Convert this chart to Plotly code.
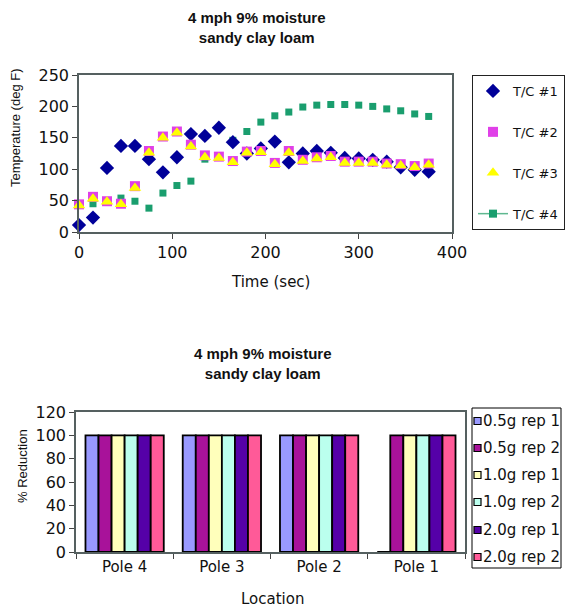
import plotly.graph_objects as go

W, H = 566, 607

# ---------------- data: top chart ----------------
time_sec = [0, 15, 30, 45, 60, 75, 90, 105, 120, 135, 150, 165, 180, 195, 210,
            225, 240, 255, 270, 285, 300, 315, 330, 345, 360, 375]
tc1 = [11, 23, 102, 137, 137, 116, 95, 119, 156, 153, 166, 143, 125, 133, 144,
       111, 125, 129, 126, 118, 117, 115, 112, 103, 99, 96]
tc2 = [44, 56, 49, 45, 73, 129, 152, 160, 139, 122, 120, 113, 128, 129, 110,
       129, 115, 119, 121, 112, 112, 112, 109, 108, 105, 109]
tc3 = [42, 53, 48, 44, 70, 126, 150, 158, 136, 119, 118, 111, 126, 127, 108,
       126, 113, 117, 119, 110, 110, 110, 107, 106, 103, 107]
tc4 = [45, 45, 48, 54, 49, 38, 62, 74, 81, 116, 120, 146, 160, 175, 185,
       191, 199, 202, 203, 203, 202, 200, 196, 193, 188, 184]
tc_names = ["T/C #1", "T/C #2", "T/C #3", "T/C #4"]

# ---------------- data: bottom chart ----------------
locations = ["Pole 4", "Pole 3", "Pole 2", "Pole 1"]
rep_names = ["0.5g rep 1", "0.5g rep 2", "1.0g rep 1", "1.0g rep 2", "2.0g rep 1", "2.0g rep 2"]
red_05_1 = [100, 100, 100, 0]
red_05_2 = [100, 100, 100, 100]
red_10_1 = [100, 100, 100, 100]
red_10_2 = [100, 100, 100, 100]
red_20_1 = [100, 100, 100, 100]
red_20_2 = [100, 100, 100, 100]
reductions = [red_05_1, red_05_2, red_10_1, red_10_2, red_20_1, red_20_2]
bar_colors = ["#9999FF", "#A8129A", "#FFFFBB", "#BBFFEE", "#5500A8", "#FF5A98"]

TICK = "DejaVu Sans"
VERT = "Liberation Sans"

def px(xp):
    return xp / W

def py(yp):
    return 1 - yp / H

fig = go.Figure()

# top scatter
fig.add_trace(go.Scatter(x=time_sec, y=tc4, mode="markers", name=tc_names[3],
                         marker=dict(symbol="square", size=7, color="#1A9E6E"),
                         showlegend=False, cliponaxis=False, xaxis="x", yaxis="y"))
fig.add_trace(go.Scatter(x=time_sec, y=tc1, mode="markers", name=tc_names[0],
                         marker=dict(symbol="diamond", size=11, color="#000099"),
                         legendgroup="a", cliponaxis=False, xaxis="x", yaxis="y"))
fig.add_trace(go.Scatter(x=time_sec, y=tc2, mode="markers", name=tc_names[1],
                         marker=dict(symbol="square", size=10, color="#E040E8"),
                         legendgroup="b", cliponaxis=False, xaxis="x", yaxis="y"))
fig.add_trace(go.Scatter(x=time_sec, y=tc3, mode="markers", name=tc_names[2],
                         marker=dict(symbol="triangle-up", size=11, color="#FFFF00"),
                         legendgroup="c", cliponaxis=False, xaxis="x", yaxis="y"))
# legend entry for T/C #4 (shown with a line in the reference legend)
fig.add_trace(go.Scatter(x=[None], y=[None], mode="lines+markers", name=tc_names[3],
                         marker=dict(symbol="square", size=8, color="#1A9E6E"),
                         line=dict(color="#5FB890", width=1.5),
                         legendgroup="d", xaxis="x", yaxis="y"))

# bottom bars
for name, vals, col in zip(rep_names, reductions, bar_colors):
    fig.add_trace(go.Bar(x=locations, y=vals, name=name,
                         marker=dict(color=col, line=dict(color="black", width=1.8)),
                         showlegend=False, xaxis="x2", yaxis="y2"))

# manual legend for bottom chart
shapes = []
annotations = []
lx0, lx1, ly0, ly1 = 472, 561, 408, 568
shapes.append(dict(type="rect", xref="paper", yref="paper", x0=px(lx0), x1=px(lx1), y0=py(ly1), y1=py(ly0),
                   line=dict(color="black", width=1), fillcolor="white", layer="above"))
row_y = [421, 448, 475, 502, 530, 557]
for name, col, ry in zip(rep_names, bar_colors, row_y):
    shapes.append(dict(type="rect", xref="paper", yref="paper", x0=px(474), x1=px(481), y0=py(ry + 3.5), y1=py(ry - 3.5),
                       line=dict(color="black", width=1.2), fillcolor=col, layer="above"))
    annotations.append(dict(text=name, xref="paper", yref="paper", x=px(481), y=py(ry), xanchor="left", yanchor="middle",
                            showarrow=False, font=dict(family=TICK, size=15, color="#111")))

# titles
annotations.append(dict(text="<b>4 mph 9% moisture<br>sandy clay loam</b>", xref="paper", yref="paper",
                        x=px(257), y=py(27), xanchor="center", yanchor="middle", showarrow=False,
                        font=dict(family="Liberation Sans", size=15, color="#111")))
annotations.append(dict(text="<b>4 mph 9% moisture<br>sandy clay loam</b>", xref="paper", yref="paper",
                        x=px(263), y=py(363), xanchor="center", yanchor="middle", showarrow=False,
                        font=dict(family="Liberation Sans", size=15, color="#111")))
# axis titles
annotations.append(dict(text="Temperature (deg F)", xref="paper", yref="paper", x=px(16), y=py(128),
                        xanchor="center", yanchor="middle", textangle=-90, showarrow=False,
                        font=dict(family=VERT, size=13, color="#111")))
annotations.append(dict(text="Time (sec)", xref="paper", yref="paper", x=px(270), y=py(282),
                        xanchor="center", yanchor="middle", showarrow=False,
                        font=dict(family=TICK, size=15, color="#111")))
annotations.append(dict(text="% Reduction", xref="paper", yref="paper", x=px(22), y=py(466),
                        xanchor="center", yanchor="middle", textangle=-90, showarrow=False,
                        font=dict(family=VERT, size=13, color="#111")))
annotations.append(dict(text="Location", xref="paper", yref="paper", x=px(272), y=py(599),
                        xanchor="center", yanchor="middle", showarrow=False,
                        font=dict(family=TICK, size=15, color="#111")))

axis_common = dict(showgrid=False, zeroline=False, ticks="outside", ticklen=5, tickcolor="#444",
                   linecolor="#556060", linewidth=1.5, mirror=True, showline=True, automargin=False,
                   tickfont=dict(family=TICK, size=16, color="#111"))

fig.update_layout(
    width=W, height=H, margin=dict(l=0, r=0, t=0, b=0, pad=0),
    paper_bgcolor="white", plot_bgcolor="white",
    showlegend=True,
    xaxis=dict(domain=[px(79), px(452)], range=[0, 400], tickvals=[0, 100, 200, 300, 400], anchor="y", **axis_common),
    yaxis=dict(domain=[py(232), py(75)], range=[0, 250], tickvals=[0, 50, 100, 150, 200, 250], anchor="x", **axis_common),
    xaxis2=dict(domain=[px(76), px(465)], anchor="y2", tickson="boundaries", type="category",
                **{**axis_common, "tickfont": dict(family=TICK, size=15, color="#111")}),
    yaxis2=dict(domain=[py(552), py(412)], range=[0, 120], tickvals=[0, 20, 40, 60, 80, 100, 120], anchor="x2",
                **axis_common),
    barmode="group", bargap=0.195, bargroupgap=0,
    legend=dict(x=px(565), y=py(75), xanchor="right", yanchor="top", bordercolor="#222", borderwidth=1,
                bgcolor="white", font=dict(family=TICK, size=13, color="#111"),
                traceorder="grouped", tracegroupgap=21, itemwidth=30),
    shapes=shapes, annotations=annotations,
)

fig.write_html(
    "out.html",
    config={"responsive": False, "displayModeBar": False},
    post_script="document.body.style.margin='0';document.body.style.padding='0';"
                "document.body.style.overflow='hidden';document.documentElement.style.overflow='hidden';",
)
